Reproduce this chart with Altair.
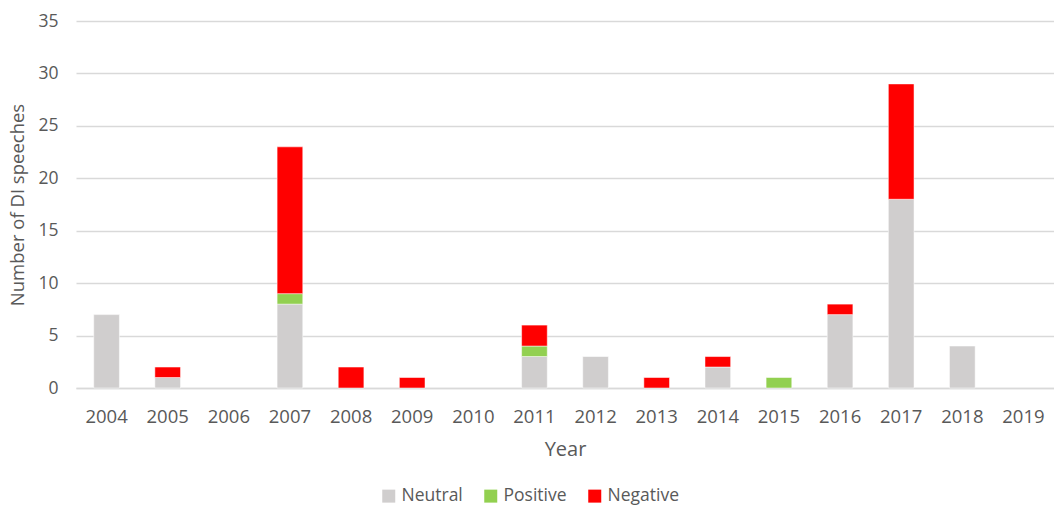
import altair as alt
import pandas as pd

years = [str(y) for y in range(2004, 2020)]
neutral = [7, 1, 0, 8, 0, 0, 0, 3, 3, 0, 2, 0, 7, 18, 4, 0]
positive = [0, 0, 0, 1, 0, 0, 0, 1, 0, 0, 0, 1, 0, 0, 0, 0]
negative = [0, 1, 0, 14, 2, 1, 0, 2, 0, 1, 1, 0, 1, 11, 0, 0]

series = ["Neutral", "Positive", "Negative"]
colors = ["#D0CECE", "#92D050", "#FF0000"]

rows = []
for i, y in enumerate(years):
    for k, (name, vals) in enumerate(zip(series, [neutral, positive, negative])):
        if vals[i] > 0:
            rows.append({"Year": y, "Sentiment": name, "Count": vals[i], "ord": k})
df = pd.DataFrame(rows)

FONT = "Open Sans"
TXT = "#595959"

chart = alt.Chart(df).mark_bar(stroke="white", strokeWidth=0.5).encode(
    x=alt.X("Year:N", scale=alt.Scale(domain=years, paddingInner=0.58, paddingOuter=0.29),
            axis=alt.Axis(title="Year", labelAngle=0, ticks=False, domainColor="#D9D9D9",
                          domainWidth=1.5, labelPadding=19, titlePadding=14,
                          labelFontSize=18.5, titleFontSize=20)),
    y=alt.Y("Count:Q", stack="zero", scale=alt.Scale(domain=[0, 35], nice=False),
            axis=alt.Axis(title="Number of DI speeches", values=list(range(0, 36, 5)),
                          ticks=False, domain=False, gridColor="#D9D9D9", gridWidth=1.5,
                          labelPadding=18, titlePadding=10, labelFontSize=17.5, titleFontSize=18.5)),
    color=alt.Color("Sentiment:N", scale=alt.Scale(domain=series, range=colors),
                    legend=alt.Legend(title=None, orient="none", direction="horizontal",
                                      legendX=304, legendY=466, symbolType="square",
                                      symbolSize=169, symbolStrokeWidth=0, labelFontSize=17.5,
                                      columnPadding=19, labelOffset=4)),
    order=alt.Order("ord:Q"),
).properties(
    width=978, height=367,
    autosize=alt.AutoSizeParams(type="none"),
    padding={"left": 68, "top": 13, "right": 0, "bottom": 120},
).configure_axis(
    labelFont=FONT, titleFont=FONT, labelColor=TXT, titleColor=TXT, titleFontWeight="normal"
).configure_legend(
    labelFont=FONT, labelColor=TXT
).configure_view(stroke=None)

chart.save("out.html", embed_options={"renderer": "svg", "actions": False})
